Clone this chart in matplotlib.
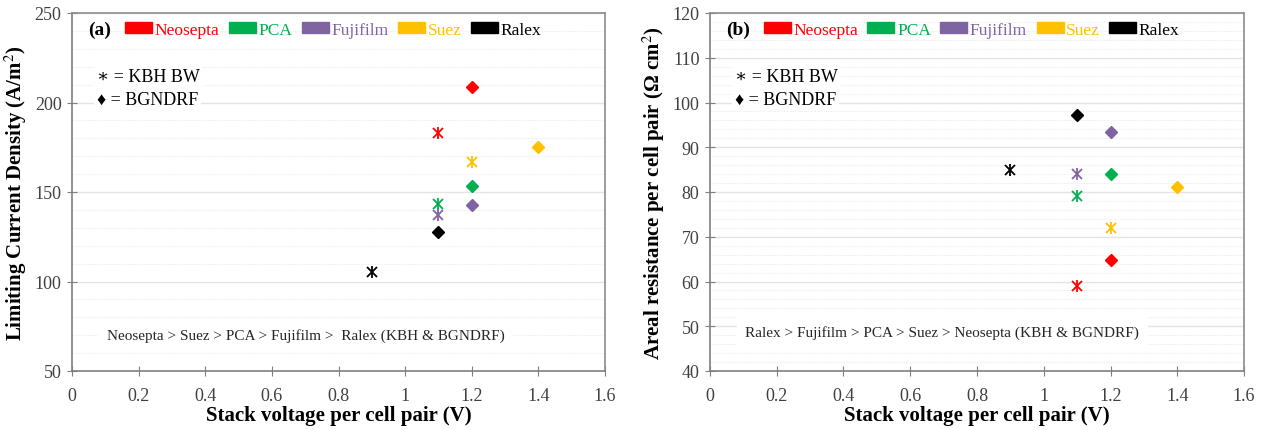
import matplotlib
matplotlib.use('Agg')
import matplotlib.pyplot as plt
from matplotlib.patches import Patch
from matplotlib.ticker import MultipleLocator
import numpy as np

plt.rcParams['font.family'] = ['Liberation Serif', 'DejaVu Serif']
plt.rcParams['mathtext.fontset'] = 'stix'

# membranes and colours
membranes = ['Neosepta', 'PCA', 'Fujifilm', 'Suez', 'Ralex']
colors = ['#FF0000', '#00B050', '#8064A2', '#FFC000', '#000000']

# stack voltage per cell pair (V)
v_kbh = [1.1, 1.1, 1.1, 1.2, 0.9]
v_bgn = [1.2, 1.2, 1.2, 1.4, 1.1]

# limiting current density (A/m2)
lcd_kbh = [183, 143.5, 137, 166.5, 105.5]
lcd_bgn = [208.5, 153.5, 143, 175, 127.5]

# areal resistance per cell pair (ohm cm2)
res_kbh = [59, 79, 84, 72, 85]
res_bgn = [64.7, 84, 93.5, 81.2, 97.2]


def draw_panel(ax, y_kbh, y_bgn, ylim, ymajor, yminor, ylabel, tag, note, note_xy):
    for i, m in enumerate(membranes):
        # excel style "star" marker = x plus a vertical bar
        ax.plot(v_kbh[i], y_kbh[i], linestyle='none', marker='x', markersize=7,
                markeredgewidth=1.3, color=colors[i], zorder=5)
        ax.plot(v_kbh[i], y_kbh[i], linestyle='none', marker='|', markersize=9,
                markeredgewidth=1.3, color=colors[i], zorder=5)
        ax.plot(v_bgn[i], y_bgn[i], linestyle='none', marker='D', markersize=6,
                color=colors[i], zorder=5)
    ax.set_xlim(0, 1.6)
    ax.set_ylim(*ylim)
    ax.yaxis.set_major_locator(MultipleLocator(ymajor))
    ax.yaxis.set_minor_locator(MultipleLocator(yminor))
    ax.set_xticks([0, 0.2, 0.4, 0.6, 0.8, 1.0, 1.2, 1.4, 1.6])
    ax.set_xticklabels(['0', '0.2', '0.4', '0.6', '0.8', '1', '1.2', '1.4', '1.6'])
    ax.grid(axis='y', which='major', color='#E4E4E4', linewidth=1.0)
    ax.grid(axis='y', which='minor', color='#EDEDED', linewidth=0.8, linestyle=(0, (1, 1)))
    ax.set_axisbelow(True)
    for s in ['left', 'bottom']:
        ax.spines[s].set_color('#7F7F7F')
        ax.spines[s].set_linewidth(1.2)
    for s in ['top', 'right']:
        ax.spines[s].set_color('#8C8C8C')
        ax.spines[s].set_linewidth(1.2)
    ax.tick_params(axis='both', which='major', direction='inout', length=7,
                   color='#7F7F7F', labelsize=13, labelcolor='#404040', pad=4)
    ax.tick_params(axis='y', which='minor', length=0)
    ax.tick_params(axis='x', pad=8)
    ax.set_xlabel('Stack voltage per cell pair (V)', fontsize=15, fontweight='bold', labelpad=1)
    ax.set_ylabel(ylabel, fontsize=15, fontweight='bold', labelpad=4)

    ax.text(0.03, 0.953, tag, transform=ax.transAxes, fontsize=14, fontweight='bold',
            va='center', ha='left')
    handles = [Patch(facecolor=c, edgecolor=c) for c in colors]
    leg = ax.legend(handles, membranes, loc='center', bbox_to_anchor=(0.49, 0.953),
                    ncol=5, frameon=False, fontsize=12.5, handlelength=1.55,
                    handleheight=0.6, handletextpad=0.15, columnspacing=0.55)
    for t, c in zip(leg.get_texts(), colors):
        t.set_color(c)

    box = dict(facecolor='white', edgecolor='none', pad=2)
    ax.text(0.047, 0.822, '\u2217 = KBH BW', transform=ax.transAxes, fontsize=13,
            va='center', ha='left', bbox=box, zorder=4)
    ax.text(0.047, 0.76, '\u2666 = BGNDRF', transform=ax.transAxes, fontsize=13,
            va='center', ha='left', bbox=box, zorder=4)
    ax.text(note_xy[0], note_xy[1], note, transform=ax.transAxes, fontsize=11,
            va='center', ha='left', color='#262626',
            bbox=dict(facecolor='white', edgecolor='none', pad=6), zorder=4)


fig = plt.figure(figsize=(12.63, 4.31), dpi=100)
ax1 = fig.add_axes([72 / 1263, 1 - 372 / 431, (605 - 72) / 1263, 358 / 431])
ax2 = fig.add_axes([710 / 1263, 1 - 372 / 431, (1244 - 710) / 1263, 358 / 431])

draw_panel(ax1, lcd_kbh, lcd_bgn, (50, 250), 50, 10,
           'Limiting Current Density (A/m$^{2}$)', '(a)',
           'Neosepta > Suez > PCA > Fujifilm >  Ralex (KBH & BGNDRF)', (0.065, 0.1))
draw_panel(ax2, res_kbh, res_bgn, (40, 120), 10, 2,
           'Areal resistance per cell pair (\u03a9 cm$^{2}$)', '(b)',
           'Ralex > Fujifilm > PCA > Suez > Neosepta (KBH & BGNDRF)', (0.066, 0.11))

fig.savefig('out.png', dpi=100)
